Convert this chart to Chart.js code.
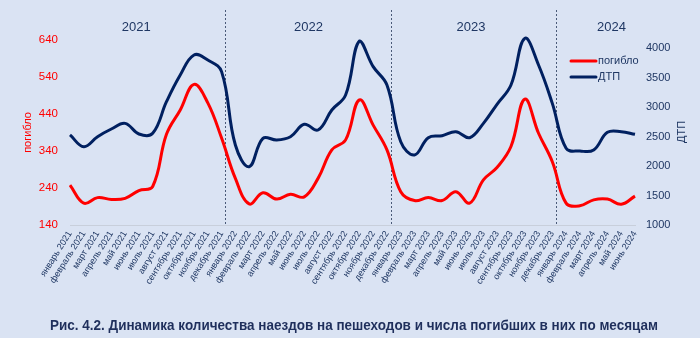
<!DOCTYPE html>
<html>
<head>
<meta charset="utf-8">
<script src="https://cdn.jsdelivr.net/npm/chart.js"></script>
<style>
  html, body { margin: 0; padding: 0; background: #dae3f3; }
  #wrap { width: 700px; height: 338px; }
</style>
</head>
<body>
<div id="wrap"><canvas id="chart" width="700" height="338"></canvas></div>
<script>
const months = ['январь', 'февраль', 'март', 'апрель', 'май', 'июнь', 'июль', 'август', 'сентябрь', 'октябрь', 'ноябрь', 'декабрь'];
const years = ['2021', '2022', '2023', '2024'];
const monthsIn2024 = 6;

const killed = [248, 199, 214, 209, 212, 233, 244, 385, 451, 520, 470, 375,
  266, 197, 227, 210, 223, 216, 266, 343, 370, 478, 410, 343,
  230, 206, 214, 206, 230, 199, 262, 296, 352, 480, 388, 311,
  199, 192, 208, 210, 196, 218];

const accidents = [2526, 2327, 2497, 2627, 2723, 2543, 2554, 3090, 3543, 3882, 3797, 3600,
  2356, 1988, 2469, 2441, 2497, 2707, 2610, 2949, 3203, 4119, 3684, 3373,
  2412, 2187, 2480, 2514, 2582, 2480, 2723, 3050, 3373, 4164, 3712, 3062,
  2300, 2254, 2271, 2571, 2582, 2537];

const rightTicks = [1000, 1500, 2000, 2500, 3000, 3500, 4000];

const caption = 'Рис. 4.2. Динамика количества наездов на пешеходов и числа погибших в них по месяцам';

let labels = [];
years.forEach((y, i) => {
  const n = i === years.length - 1 ? monthsIn2024 : 12;
  for (let m = 0; m < n; m++) labels.push(months[m] + ' ' + y);
});

// where the year captions and the dashed separators sit (in category units)
const yearPos = [4.8, 17.3, 29.1, 39.3];
const sepPos = [11.28, 23.29, 35.27];

const navy = '#002060';
const textColor = '#1f3763';

Chart.defaults.font.family = "'Liberation Sans', Arial, sans-serif";

const decor = {
  id: 'decor',
  beforeDraw(chart) {
    const ctx = chart.ctx;
    ctx.save();
    ctx.fillStyle = '#dae3f3';
    ctx.fillRect(0, 0, chart.width, chart.height);
    ctx.restore();
  },
  beforeDatasetsDraw(chart) {
    const { ctx, chartArea, scales } = chart;
    const x = scales.x;
    ctx.save();
    ctx.strokeStyle = '#4a5a78';
    ctx.lineWidth = 1;
    ctx.setLineDash([2, 2]);
    sepPos.forEach(p => {
      const px = Math.round(x.getPixelForValue(p)) + 0.5;
      ctx.beginPath();
      ctx.moveTo(px, 10);
      ctx.lineTo(px, chartArea.bottom);
      ctx.stroke();
    });
    ctx.setLineDash([]);
    ctx.fillStyle = textColor;
    ctx.font = "13px 'Liberation Sans', Arial, sans-serif";
    ctx.textAlign = 'center';
    ctx.textBaseline = 'middle';
    yearPos.forEach((p, i) => {
      ctx.fillText(years[i], x.getPixelForValue(p), 27);
    });
    ctx.restore();
  },
  afterDraw(chart) {
    const ctx = chart.ctx;
    ctx.save();
    // legend
    const items = [[chart.data.datasets[0].label, 'red', 61], [chart.data.datasets[1].label, navy, 77]];
    ctx.font = "11px 'Liberation Sans', Arial, sans-serif";
    ctx.textBaseline = 'middle';
    ctx.textAlign = 'left';
    items.forEach(([t, c, y]) => {
      ctx.strokeStyle = c;
      ctx.lineWidth = 3;
      ctx.lineCap = 'round';
      ctx.beginPath();
      ctx.moveTo(571, y);
      ctx.lineTo(596, y);
      ctx.stroke();
      ctx.fillStyle = textColor;
      ctx.fillText(t, 598, y);
    });
    // right axis title, reading upwards
    ctx.translate(682, 132);
    ctx.rotate(-Math.PI / 2);
    ctx.textAlign = 'center';
    ctx.font = "11px 'Liberation Sans', Arial, sans-serif";
    ctx.fillText('ДТП', 0, 0);
    ctx.setTransform(1, 0, 0, 1, 0, 0);
    // caption
    ctx.font = "bold 14px 'Liberation Sans', Arial, sans-serif";
    ctx.fillStyle = '#1f2f5c';
    const w = ctx.measureText(caption).width;
    const target = 608;
    ctx.translate(354, 326);
    ctx.scale(target / w, 1);
    ctx.textAlign = 'center';
    ctx.fillText(caption, 0, 0);
    ctx.restore();
  }
};

new Chart(document.getElementById('chart'), {
  type: 'line',
  data: {
    labels,
    datasets: [
      {
        label: 'погибло',
        data: killed,
        yAxisID: 'y',
        borderColor: 'red',
        borderWidth: 3,
        pointRadius: 0,
        tension: 0.4,
        clip: false
      },
      {
        label: 'ДТП',
        data: accidents,
        yAxisID: 'y1',
        borderColor: navy,
        borderWidth: 3,
        pointRadius: 0,
        tension: 0.4,
        clip: false
      }
    ]
  },
  options: {
    responsive: false,
    animation: false,
    devicePixelRatio: 1,
    layout: { padding: { top: 40, left: 0, right: 0, bottom: 0 } },
    plugins: {
      legend: { display: false },
      tooltip: { enabled: false }
    },
    scales: {
      x: {
        grid: { display: false, drawTicks: false },
        border: { display: true, color: '#c8cfdb', width: 1 },
        ticks: {
          autoSkip: false,
          minRotation: 58,
          maxRotation: 58,
          padding: 4,
          color: textColor,
          font: { size: 9 }
        },
        afterFit(scale) { scale.height = 113; }
      },
      y: {
        position: 'left',
        min: 140,
        max: 640,
        grid: { display: false, drawTicks: false },
        border: { display: false },
        ticks: { stepSize: 100, padding: 12, color: 'red', font: { size: 11.5 } },
        title: { display: true, text: 'погибло', color: 'red', font: { size: 11 }, padding: { top: 21 } },
        afterFit(scale) { scale.width = 70; }
      },
      y1: {
        position: 'right',
        min: 1000,
        max: 4136,
        grid: { display: false, drawTicks: false },
        border: { display: false },
        ticks: {
          autoSkip: false,
          padding: 11,
          color: textColor,
          font: { size: 11 },
          callback: v => String(v)
        },
        afterBuildTicks(scale) {
          scale.ticks = rightTicks.map(v => ({ value: v }));
        },
        afterFit(scale) { scale.width = 65; }
      }
    }
  },
  plugins: [decor]
});
</script>
</body>
</html>
